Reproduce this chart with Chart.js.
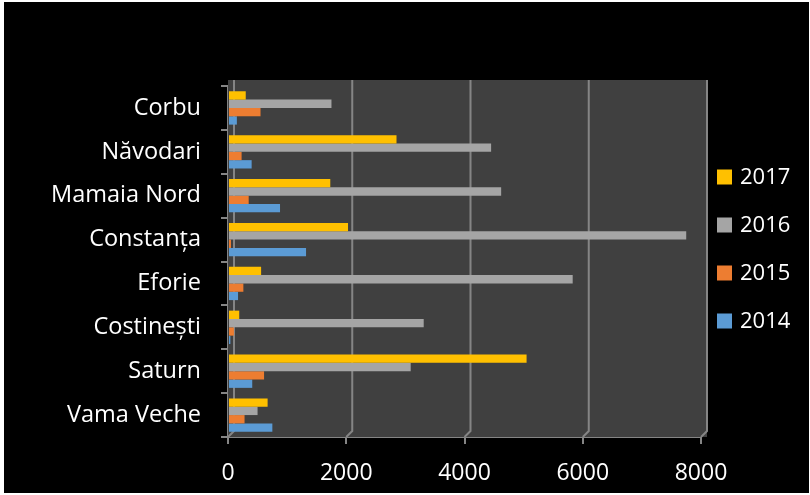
<!DOCTYPE html>
<html>
<head>
<meta charset="utf-8">
<script src="https://cdn.jsdelivr.net/npm/chart.js@4/dist/chart.umd.min.js"></script>
<style>
  html, body { margin: 0; padding: 0; background: #fff; }
  #wrap { position: absolute; left: 4px; top: 2px; width: 805px; height: 491px; background: #000; }
</style>
</head>
<body>
<div id="wrap"><canvas id="chart" width="805" height="491"></canvas></div>
<script>
// statiuni de pe litoral, de sus in jos
const statiuni = ['Corbu', 'Năvodari', 'Mamaia Nord', 'Constanța', 'Eforie', 'Costinești', 'Saturn', 'Vama Veche'];
const ani = ['2017', '2016', '2015', '2014'];
const culori = ['#FFC000', '#A5A5A5', '#ED7D31', '#5B9BD5'];

const val2017 = [300, 2850, 1730, 2030, 560, 190, 5050, 670];
const val2016 = [1750, 4450, 4620, 7750, 5830, 3310, 3090, 500];
const val2015 = [550, 230, 350, 50, 260, 100, 610, 280];
const val2014 = [150, 400, 880, 1320, 170, 40, 410, 750];

const xTicks = [0, 2000, 4000, 6000, 8000];

const fontFam = '"Open Sans", sans-serif';
const gridCol = '#858585';
const adancime = 6; // efectul 3D al peretelui din spate

// perete din spate + podea + linii de grila (stil 3D ca in Excel)
const plotBg = {
    id: 'plotBg',
    beforeDatasetsDraw(chart) {
        const { ctx, chartArea: a } = chart;
        const xs = chart.scales.x;
        const d = adancime;
        ctx.save();
        ctx.fillStyle = '#404040';
        ctx.fillRect(a.left, a.top - d, a.right - a.left + d, a.bottom - a.top + d);
        ctx.strokeStyle = gridCol;
        ctx.lineWidth = 2;
        xTicks.forEach(v => {
            const x = xs.getPixelForValue(v);
            ctx.beginPath();
            ctx.moveTo(x + d, a.top - d);
            ctx.lineTo(x + d, a.bottom - d);
            ctx.lineTo(x, a.bottom);
            ctx.stroke();
        });
        ctx.restore();
    }
};

// legenda desenata langa grafic (cea din Chart.js lasa prea mult spatiu)
const sideLegend = {
    id: 'sideLegend',
    afterDraw(chart) {
        const ctx = chart.ctx;
        ctx.save();
        ctx.font = '22px ' + fontFam;
        ctx.textBaseline = 'middle';
        chart.data.datasets.forEach((ds, i) => {
            const y = 175 + i * 48;
            ctx.fillStyle = ds.backgroundColor;
            ctx.fillRect(713, y - 7.5, 15, 15);
            ctx.fillStyle = '#fff';
            ctx.fillText(ds.label, 736, y + 1);
        });
        ctx.restore();
    }
};

const seturi = [val2017, val2016, val2015, val2014].map((v, i) => ({
    label: ani[i],
    data: v,
    backgroundColor: culori[i],
    borderWidth: 0,
    categoryPercentage: 0.76,
    barPercentage: 1.0
}));

new Chart(document.getElementById('chart'), {
    type: 'bar',
    data: { labels: statiuni, datasets: seturi },
    options: {
        indexAxis: 'y',
        responsive: false,
        animation: false,
        layout: { padding: { top: 84, right: 108, left: 0, bottom: 0 } },
        plugins: {
            legend: { display: false },
            tooltip: { enabled: false }
        },
        scales: {
            x: {
                min: 0,
                max: 8000,
                afterBuildTicks: (scale) => { scale.ticks = xTicks.map(v => ({ value: v })); },
                afterFit: (scale) => { scale.height = 56; },
                grid: { drawOnChartArea: false, color: gridCol, lineWidth: 2, tickLength: 7, tickColor: gridCol },
                border: { color: gridCol, width: 2 },
                ticks: {
                    color: '#fff',
                    font: { size: 23, family: fontFam },
                    padding: 16,
                    callback: (v) => String(v)
                }
            },
            y: {
                afterFit: (scale) => { scale.width = 224; },
                grid: { drawOnChartArea: false, tickLength: 7, color: gridCol, lineWidth: 2 },
                border: { color: gridCol, width: 2 },
                ticks: { color: '#fff', font: { size: 23.5, family: fontFam }, padding: 20 }
            }
        }
    },
    plugins: [plotBg, sideLegend]
});
</script>
</body>
</html>
